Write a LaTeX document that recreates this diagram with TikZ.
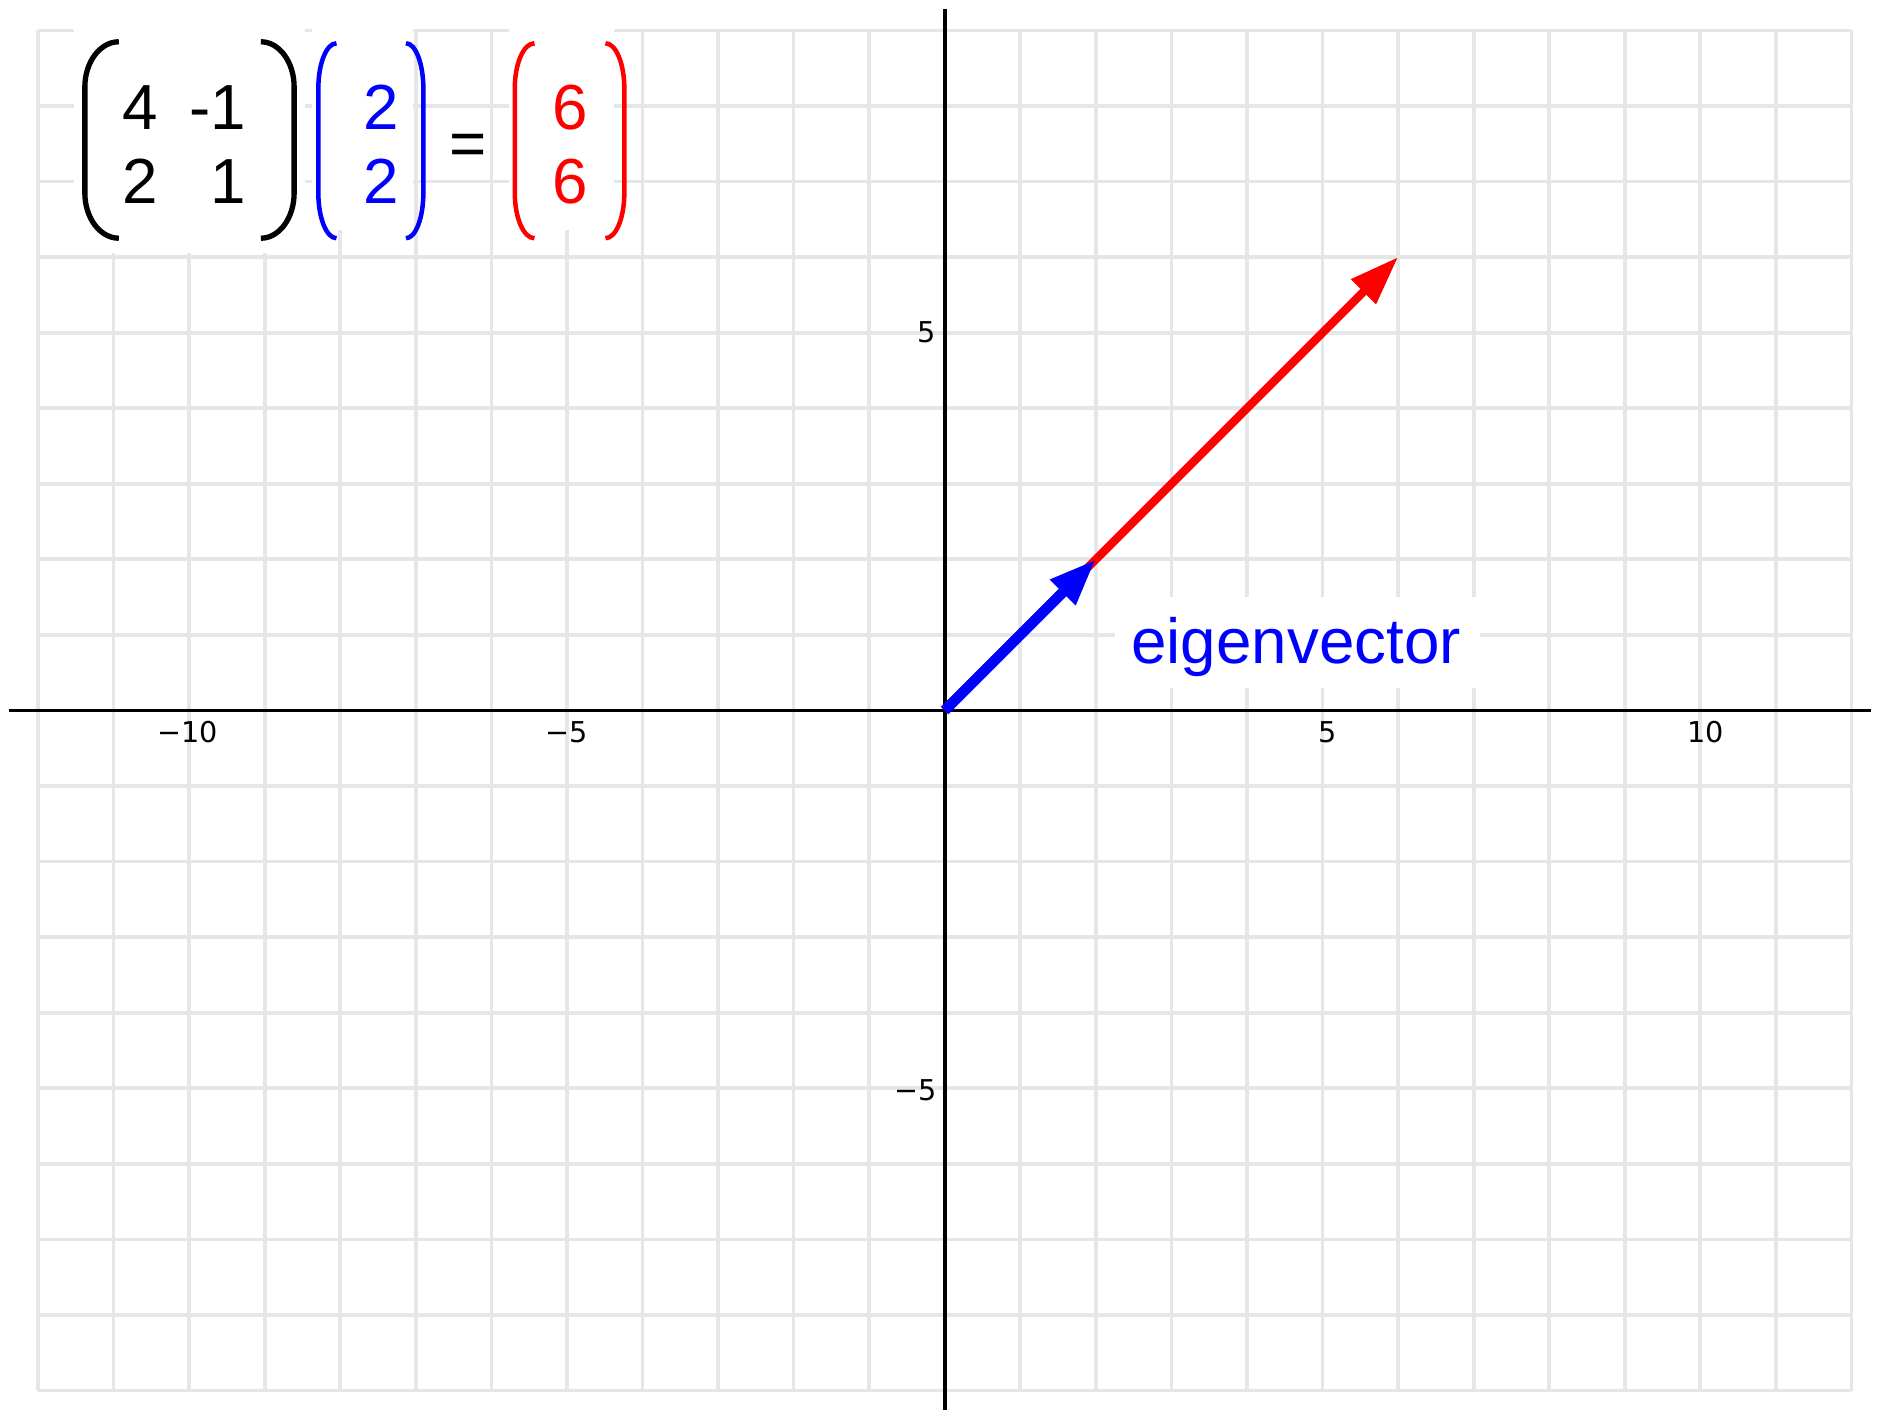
\documentclass[tikz,border=0pt]{standalone}
\usepackage{fontspec}
\setmainfont{Liberation Sans}
\newfontfamily\fonteeixo{DejaVu Sans}
\usetikzlibrary{arrows.meta}
\definecolor{cinzagrade}{RGB}{230,230,230}
\tikzset{%
    grade/.style     = {draw=cinzagrade, line width=1.4pt},
    eixo/.style      = {draw=black, line width=1.4pt},
    fundo/.style     = {fill=white, draw=none},
    escala/.style    = {font=\fonteeixo\fontsize{10.8}{12}\selectfont, inner sep=0pt},
    entrada/.style   = {font=\fontsize{24}{28}\selectfont, inner sep=0pt, anchor=base east},
    parentese/.style = {line width=1.7pt},
    vetor/.style     = {line width=3.1pt, -{Triangle[length=0.65cm, width=0.44cm]}},
}

\begin{document}
\begin{tikzpicture}
    \useasboundingbox (-12.503,-9.257) rectangle (12.444,9.403);
    \draw[grade] (-12,-9) grid (12,9);

    % fundos brancos
    \path[fundo] (-11.53,6.05) rectangle (-8.46,9.1);
    \path[fundo] (-8.37,6.36)  rectangle (-7.04,9.1);
    \path[fundo] (-5.77,6.36)  rectangle (-4.38,9.1);
    \path[fundo] (2.26,0.3)    rectangle (7.08,1.5);

    % eixos
    \draw[eixo] (-12.38,0) -- (12.26,0);
    \draw[eixo] (0,-9.3) -- (0,9.28);

    \node (xm10) [escala] at (-10.02,-0.29) {−10};
    \node (xm5)  [escala] at (-5,-0.29)    {−5};
    \node (xp5)  [escala] at (5.07,-0.29)  {5};
    \node (xp10) [escala] at (10.07,-0.29) {10};
    \node (yp5)  [escala, anchor=east] at (-0.11,5)    {5};
    \node (ym5)  [escala, anchor=east] at (-0.1,-5.03) {−5};

    % matriz, vetor e resultado
    \node (a11) [entrada] at (-10.41,7.69) {4};
    \node (a12) [entrada] at (-9.24,7.69)  {-1};
    \node (a21) [entrada] at (-10.41,6.71) {2};
    \node (a22) [entrada] at (-9.24,6.71)  {1};
    \node (v1)  [entrada, text=blue] at (-7.22,7.69) {2};
    \node (v2)  [entrada, text=blue] at (-7.22,6.71) {2};
    \node (igual) [entrada, anchor=base] at (-6.31,7.21) {=};
    \node (r1)  [entrada, text=red] at (-4.71,7.69) {6};
    \node (r2)  [entrada, text=red] at (-4.71,6.71) {6};

    \draw[parentese, line width=2pt] (-10.93,8.85) arc[start angle=90, end angle=180, x radius=0.45, y radius=0.6]
        -- ++(0,-1.4) arc[start angle=180, end angle=270, x radius=0.45, y radius=0.6];
    \draw[parentese, line width=2pt] (-9.05,8.85) arc[start angle=90, end angle=0, x radius=0.44, y radius=0.6]
        -- ++(0,-1.4) arc[start angle=0, end angle=-90, x radius=0.44, y radius=0.6];
    \draw[parentese, blue] (-8.05,8.83) arc[start angle=90, end angle=180, x radius=0.24, y radius=0.6]
        -- ++(0,-1.38) arc[start angle=180, end angle=270, x radius=0.24, y radius=0.6];
    \draw[parentese, blue] (-7.13,8.83) arc[start angle=90, end angle=0, x radius=0.23, y radius=0.6]
        -- ++(0,-1.38) arc[start angle=0, end angle=-90, x radius=0.23, y radius=0.6];
    \draw[parentese, red] (-5.43,8.83) arc[start angle=90, end angle=180, x radius=0.26, y radius=0.6]
        -- ++(0,-1.38) arc[start angle=180, end angle=270, x radius=0.26, y radius=0.6];
    \draw[parentese, red] (-4.49,8.83) arc[start angle=90, end angle=0, x radius=0.25, y radius=0.6]
        -- ++(0,-1.38) arc[start angle=0, end angle=-90, x radius=0.25, y radius=0.6];

    % vetores
    \coordinate (origem) at (0,0);
    \coordinate (Av) at (6,6);
    \coordinate (v) at (2,2);
    \draw[vetor, red] (origem) -- (Av);
    \draw[vetor, blue, line width=4pt, -{Triangle[length=0.62cm, width=0.44cm]}] (origem) -- (v);

    \node (rotulo) [font=\fontsize{24}{28}\selectfont, text=blue, anchor=base, inner sep=0pt] at (4.65,0.62) {eigenvector};
\end{tikzpicture}
\end{document}
